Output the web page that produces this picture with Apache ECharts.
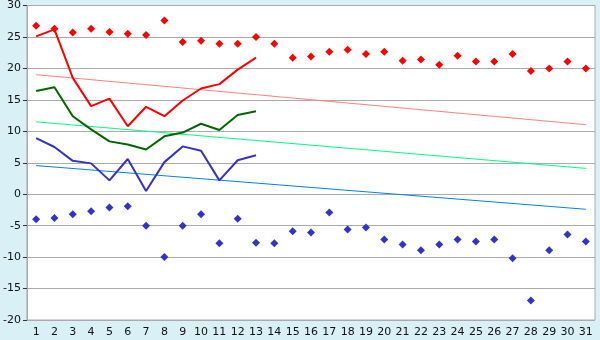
<!DOCTYPE html>
<html><head><meta charset="utf-8">
<script src="https://cdn.jsdelivr.net/npm/echarts@6/dist/echarts.min.js"></script>
<style>html,body{margin:0;padding:0;background:#daf0f7;}#c{width:600px;height:340px;}</style>
</head><body><div id="c"></div>
<script>
var days = ['1','2','3','4','5','6','7','8','9','10','11','12','13','14','15','16','17','18','19','20','21','22','23','24','25','26','27','28','29','30','31'];
var recordMax = [26.8,26.3,25.7,26.3,25.8,25.5,25.3,27.6,24.2,24.4,23.9,23.9,25.0,23.9,21.7,21.9,22.65,22.97,22.3,22.65,21.2,21.4,20.6,22.0,21.1,21.1,22.3,19.6,20.0,21.1,20.0];
var recordMin = [-4.0,-3.8,-3.2,-2.7,-2.1,-1.9,-5.0,-10.0,-5.0,-3.2,-7.8,-3.9,-7.7,-7.8,-5.9,-6.1,-2.9,-5.6,-5.3,-7.2,-8.0,-8.9,-8.0,-7.2,-7.5,-7.2,-10.2,-16.9,-8.9,-6.4,-7.5];
var dayMax = [25.1,26.2,18.5,14.0,15.2,10.8,13.9,12.4,14.9,16.8,17.5,19.8,21.7];
var dayAvg = [16.4,17.0,12.4,10.3,8.4,7.9,7.1,9.2,9.8,11.2,10.2,12.6,13.2];
var dayMin = [8.9,7.5,5.3,4.9,2.2,5.6,0.5,5.1,7.6,6.9,2.2,5.4,6.2];
var normalMax = [['1',19.0],['31',11.05]];
var normalAvg = [['1',11.5],['31',4.1]];
var normalMin = [['1',4.55],['31',-2.4]];

var chart = echarts.init(document.getElementById('c'), null, {renderer:'canvas'});
var font = 'DejaVu Sans';
function line(data, color, w, z){
  return {type:'line', data:data, symbol:'none', lineStyle:{color:color, width:w}, itemStyle:{color:color}, z:z, animation:false};
}
function pts(data, color){
  return {type:'scatter', data:data, symbol:'diamond', symbolSize:8, itemStyle:{color:color, opacity:1}, z:5, animation:false};
}
chart.setOption({
  animation:false,
  backgroundColor:'#daf0f7',
  grid:{left:26, top:5, right:5, bottom:20, show:true, backgroundColor:'#ffffff', borderColor:'#aaaaaa', borderWidth:1},
  xAxis:{type:'category', data:days, boundaryGap:true,
    axisLine:{lineStyle:{color:'#aaaaaa'}},
    axisTick:{alignWithLabel:true, length:5, lineStyle:{color:'#333'}},
    axisLabel:{color:'#111', fontFamily:font, fontSize:11, margin:7, interval:0},
    splitLine:{show:false}},
  yAxis:{type:'value', min:-20, max:30, interval:5,
    axisLine:{show:true, lineStyle:{color:'#aaaaaa'}},
    axisTick:{show:true, length:4, lineStyle:{color:'#333'}},
    axisLabel:{color:'#111', fontFamily:font, fontSize:11, margin:6},
    splitLine:{lineStyle:{color:'#aaaaaa', width:1}}},
  series:[
    line(normalMax, '#ff8080', 1, 2),
    line(normalAvg, '#00ff80', 1, 2),
    line(normalMin, '#0080ff', 1, 2),
    line(dayMax, '#ff0000', 2, 3),
    line(dayAvg, '#006600', 2, 3),
    line(dayMin, '#3333cc', 2, 3),
    pts(recordMax, '#ff0000'),
    pts(recordMin, '#3333cc')
  ]
});
</script></body></html>
